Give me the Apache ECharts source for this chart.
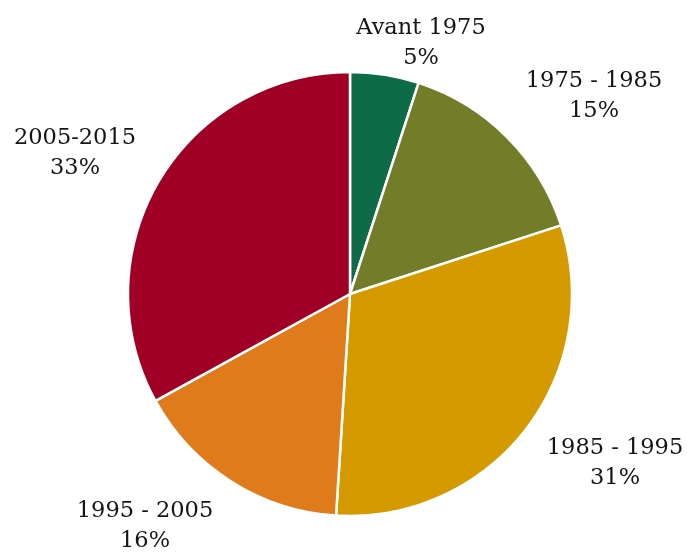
<!DOCTYPE html>
<html>
<head>
<meta charset="utf-8">
<script src="https://cdn.jsdelivr.net/npm/echarts@6/dist/echarts.min.js"></script>
<style>
html, body { margin: 0; padding: 0; background: #fff; }
#main { width: 687px; height: 552px; }
</style>
</head>
<body>
<div id="main"></div>
<script>
var categories = ['Avant 1975', '1975 - 1985', '1985 - 1995', '1995 - 2005', '2005-2015'];
var shares = [5, 15, 31, 16, 33];
var colors = ['#0E6B48', '#737D29', '#D49A00', '#E07B1C', '#A00026'];
// label anchor points (centre of the two-line label)
var labelPos = [[421, 43], [594, 96], [615, 463], [145, 526], [75, 153]];

var chart = echarts.init(document.getElementById('main'));
chart.setOption({
	animation: false,
	color: colors,
	series: [{
		type: 'pie',
		center: [350, 294],
		radius: [0, 222],
		startAngle: 90,
		clockwise: true,
		data: categories.map(function(c, i) {
			return { name: c, value: shares[i] };
		}),
		itemStyle: {
			borderColor: '#fff',
			borderWidth: 2.5
		},
		label: {
			show: true,
			position: 'outside',
			alignTo: 'none',
			overflow: 'none',
			formatter: '{b}\n{c}%',
			fontFamily: 'DejaVu Serif',
			fontSize: 22.5,
			lineHeight: 30,
			color: '#151515',
			align: 'center'
		},
		labelLine: { show: false },
		labelLayout: function(params) {
			var p = labelPos[params.dataIndex];
			return { x: p[0], y: p[1], align: 'center', verticalAlign: 'middle' };
		}
	}]
});
</script>
</body>
</html>
